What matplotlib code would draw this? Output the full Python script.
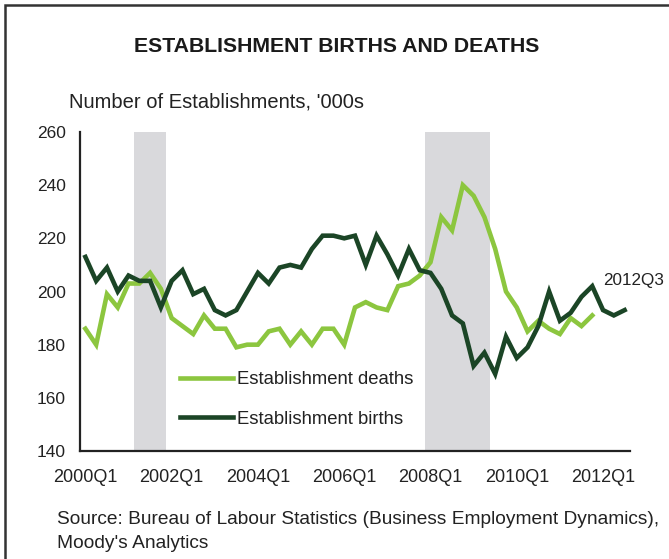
import matplotlib
matplotlib.use("Agg")
import matplotlib.pyplot as plt
from matplotlib.patches import Rectangle

# Quarterly categories 2000Q1 .. 2012Q3
quarters = [f"{y}Q{q}" for y in range(2000, 2013) for q in range(1, 5)][:51]

# Establishment births, '000s (2000Q1 - 2012Q3)
births = [213, 204, 209, 200, 206, 204, 204, 194, 204, 208,
          199, 201, 193, 191, 193, 200, 207, 203, 209, 210,
          209, 216, 221, 221, 220, 221, 210, 221, 214, 206,
          216, 208, 207, 201, 191, 188, 172, 177, 169, 183,
          175, 179, 187, 200, 189, 192, 198, 202, 193, 191, 193]

# Establishment deaths, '000s (2000Q1 - 2011Q4)
deaths = [186, 180, 199, 194, 203, 203, 207, 201, 190, 187,
          184, 191, 186, 186, 179, 180, 180, 185, 186, 180,
          185, 180, 186, 186, 180, 194, 196, 194, 193, 202,
          203, 206, 211, 228, 223, 240, 236, 228, 216, 200,
          194, 185, 189, 186, 184, 190, 187, 191]

recessions = [("2001Q2", "2001Q4"), ("2008Q1", "2009Q2")]
tick_labels = ["2000Q1", "2002Q1", "2004Q1", "2006Q1", "2008Q1", "2010Q1", "2012Q1"]

plt.rcParams['font.family'] = ['Liberation Sans', 'DejaVu Sans']

W, H = 669, 559
fig = plt.figure(figsize=(W / 100, H / 100), dpi=100)
ax = fig.add_axes([80 / W, 1 - 451 / H, 550 / W, 319 / H])

# recession shading
for start, end in recessions:
    ax.axvspan(quarters.index(start) - 0.5, quarters.index(end) + 0.5,
               color="#d9d9dc", lw=0, zorder=0)

x_b = list(range(len(births)))
x_d = list(range(len(deaths)))
ax.plot(x_d, deaths, color="#8cc63f", lw=3.3, label="Establishment deaths",
        solid_joinstyle="miter", zorder=3)
ax.plot(x_b, births, color="#1b4526", lw=3.3, label="Establishment births",
        solid_joinstyle="miter", zorder=4)

ax.set_xlim(-0.5, 50.5)
ax.set_ylim(140, 260)
ax.set_yticks(range(140, 261, 20))
ax.set_xticks([quarters.index(t) for t in tick_labels])
ax.set_xticklabels(tick_labels)
ax.tick_params(axis="both", length=0, colors="#222222")
ax.tick_params(axis="y", pad=10, labelsize=12.5)
ax.tick_params(axis="x", pad=13, labelsize=13)

for s in ("top", "right"):
    ax.spines[s].set_visible(False)
for s in ("left", "bottom"):
    ax.spines[s].set_color("#222222")
    ax.spines[s].set_linewidth(1.6)

ax.annotate(quarters[len(births) - 1], xy=(len(births) - 1, births[-1]),
            xytext=(603 / W, 1 - 280 / H), textcoords="figure fraction",
            fontsize=12.3, color="#222222", va="center", ha="left")

fig.legend(loc="upper left", bbox_to_anchor=(180 / W, 1 - 371 / H),
           frameon=False, fontsize=13.3, handlelength=2.86, handletextpad=0.2,
           labelspacing=1.22, borderpad=0, borderaxespad=0, labelcolor="#222222")

fig.text(337 / W, 1 - 47 / H, "ESTABLISHMENT BIRTHS AND DEATHS",
         ha="center", va="center", fontsize=15.3, fontweight="bold", color="#1a1a1a")
fig.text(69 / W, 1 - 102 / H, "Number of Establishments, '000s",
         ha="left", va="center", fontsize=14.5, color="#222222")
fig.text(57 / W, 1 - 520 / H,
         "Source: Bureau of Labour Statistics (Business Employment Dynamics),",
         ha="left", va="center", fontsize=13.8, color="#222222")
fig.text(57 / W, 1 - 543 / H, "Moody's Analytics",
         ha="left", va="center", fontsize=13.8, color="#222222")

# outer frame
fig.patches.append(Rectangle((5 / W, -0.05), 1.2, 1 - 5 / H + 0.05,
                             transform=fig.transFigure, fill=False,
                             edgecolor="#333333", lw=1.8))

fig.savefig("out.png", dpi=100)
